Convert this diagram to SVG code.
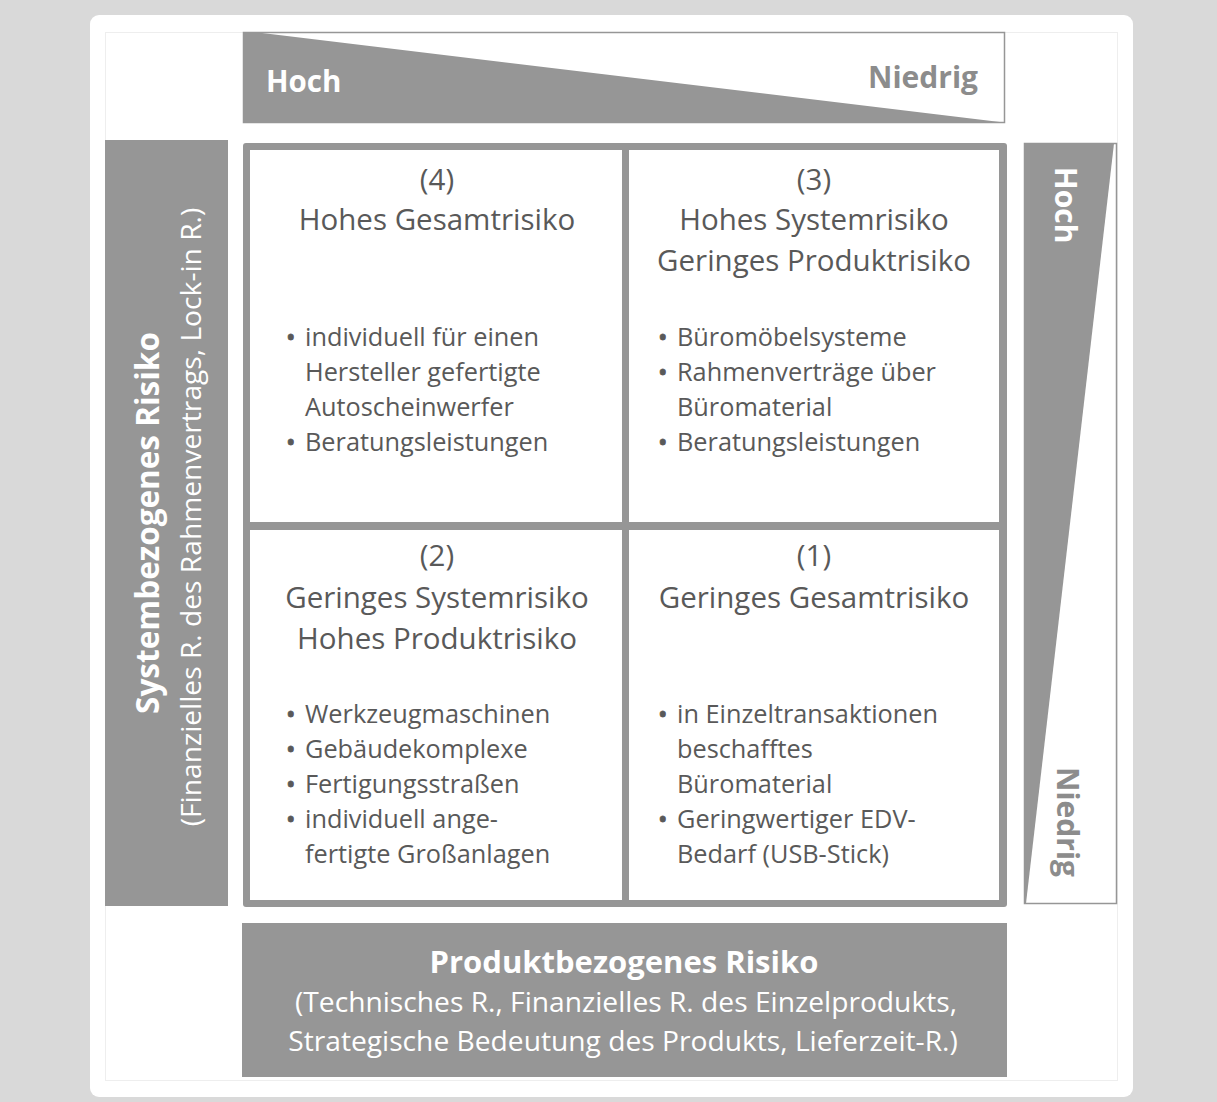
<svg xmlns="http://www.w3.org/2000/svg" width="1217" height="1102" viewBox="0 0 1217 1102">
<style>
.t{font-family:"Open Sans","Liberation Sans",sans-serif;fill:#595959}
.ttl{font-size:29.5px;text-anchor:middle}
.bl{font-size:25.3px}
.dot{font-size:25.3px;stroke:#595959;stroke-width:0.8}
.wb{font-family:"Open Sans","Liberation Sans",sans-serif;font-weight:bold;fill:#ffffff}
.wr{font-family:"Open Sans","Liberation Sans",sans-serif;fill:#ffffff}
.gf{fill:#969696}
</style>
<rect x="0" y="0" width="1217" height="1102" fill="#d9d9d9"/>
<rect x="90" y="15" width="1043" height="1082" rx="9" fill="#ffffff"/>
<rect x="105.5" y="32.5" width="1012" height="1048" fill="none" stroke="#eeeeee" stroke-width="1"/>

<g id="top-scale">
<rect x="243.5" y="32.5" width="761" height="90" fill="#ffffff"/>
<polygon class="gf" points="243.5,32.5 258,32.5 1004,122.5 243.5,122.5"/>
<rect x="243.5" y="32.5" width="761" height="90" fill="none" stroke="#969696" stroke-width="1.5"/>
<text class="wb" x="266" y="92" font-size="29.5px">Hoch</text>
<text x="978" y="88" font-size="30px" text-anchor="end" font-family="'Open Sans','Liberation Sans',sans-serif" font-weight="bold" fill="#8c8c8c">Niedrig</text>
</g>

<g id="right-scale">
<rect x="1024.5" y="143.5" width="92" height="760" fill="#ffffff"/>
<polygon class="gf" points="1024.5,143.5 1114,143.5 1026,903.5 1024.5,903.5"/>
<rect x="1024.5" y="143.5" width="92" height="760" fill="none" stroke="#969696" stroke-width="1.5"/>
<text class="wb" font-size="30px" text-anchor="middle" transform="translate(1055,205) rotate(90)">Hoch</text>
<text font-size="30px" text-anchor="middle" font-family="'Open Sans','Liberation Sans',sans-serif" font-weight="bold" fill="#8c8c8c" transform="translate(1057,822) rotate(90)">Niedrig</text>
</g>

<g id="left-axis">
<rect class="gf" x="105" y="140" width="123" height="766"/>
<text class="wb" font-size="31.5px" text-anchor="middle" transform="translate(159,523) rotate(-90)">Systembezogenes Risiko</text>
<text class="wr" font-size="28.2px" text-anchor="middle" transform="translate(201,517) rotate(-90)">(Finanzielles R. des Rahmenvertrags, Lock-in R.)</text>
</g>

<g id="bottom-axis">
<rect class="gf" x="242" y="923" width="765" height="154"/>
<text class="wb" x="624" y="973" font-size="31px" text-anchor="middle">Produktbezogenes Risiko</text>
<text class="wr" x="626" y="1012" font-size="28.2px" text-anchor="middle">(Technisches R., Finanzielles R. des Einzelprodukts,</text>
<text class="wr" x="623" y="1051" font-size="28.2px" text-anchor="middle">Strategische Bedeutung des Produkts, Lieferzeit-R.)</text>
</g>

<g id="matrix-frame">
<rect class="gf" x="243" y="143" width="764" height="764" rx="3"/>
</g>

<g id="cell-4">
<rect x="250" y="150" width="372" height="372" fill="#ffffff"/>
<text class="t ttl" x="437" y="190">(4)</text>
<text class="t ttl" x="437" y="230">Hohes Gesamtrisiko</text>
<text class="t dot" x="286" y="346">•</text>
<text class="t bl" x="305" y="346">individuell für einen</text>
<text class="t bl" x="305" y="381">Hersteller gefertigte</text>
<text class="t bl" x="305" y="416">Autoscheinwerfer</text>
<text class="t dot" x="286" y="451">•</text>
<text class="t bl" x="305" y="451">Beratungsleistungen</text>
</g>

<g id="cell-3">
<rect x="629" y="150" width="370" height="372" fill="#ffffff"/>
<text class="t ttl" x="814" y="190">(3)</text>
<text class="t ttl" x="814" y="230">Hohes Systemrisiko</text>
<text class="t ttl" x="814" y="271">Geringes Produktrisiko</text>
<text class="t dot" x="658" y="346">•</text>
<text class="t bl" x="677" y="346">Büromöbelsysteme</text>
<text class="t dot" x="658" y="381">•</text>
<text class="t bl" x="677" y="381">Rahmenverträge über</text>
<text class="t bl" x="677" y="416">Büromaterial</text>
<text class="t dot" x="658" y="451">•</text>
<text class="t bl" x="677" y="451">Beratungsleistungen</text>
</g>

<g id="cell-2">
<rect x="250" y="530" width="372" height="370" fill="#ffffff"/>
<text class="t ttl" x="437" y="566">(2)</text>
<text class="t ttl" x="437" y="608">Geringes Systemrisiko</text>
<text class="t ttl" x="437" y="649">Hohes Produktrisiko</text>
<text class="t dot" x="286" y="723">•</text>
<text class="t bl" x="305" y="723">Werkzeugmaschinen</text>
<text class="t dot" x="286" y="758">•</text>
<text class="t bl" x="305" y="758">Gebäudekomplexe</text>
<text class="t dot" x="286" y="793">•</text>
<text class="t bl" x="305" y="793">Fertigungsstraßen</text>
<text class="t dot" x="286" y="828">•</text>
<text class="t bl" x="305" y="828">individuell ange-</text>
<text class="t bl" x="305" y="863">fertigte Großanlagen</text>
</g>

<g id="cell-1">
<rect x="629" y="530" width="370" height="370" fill="#ffffff"/>
<text class="t ttl" x="814" y="566">(1)</text>
<text class="t ttl" x="814" y="608">Geringes Gesamtrisiko</text>
<text class="t dot" x="658" y="723">•</text>
<text class="t bl" x="677" y="723">in Einzeltransaktionen</text>
<text class="t bl" x="677" y="758">beschafftes</text>
<text class="t bl" x="677" y="793">Büromaterial</text>
<text class="t dot" x="658" y="828">•</text>
<text class="t bl" x="677" y="828">Geringwertiger EDV-</text>
<text class="t bl" x="677" y="863">Bedarf (USB-Stick)</text>
</g>
</svg>
